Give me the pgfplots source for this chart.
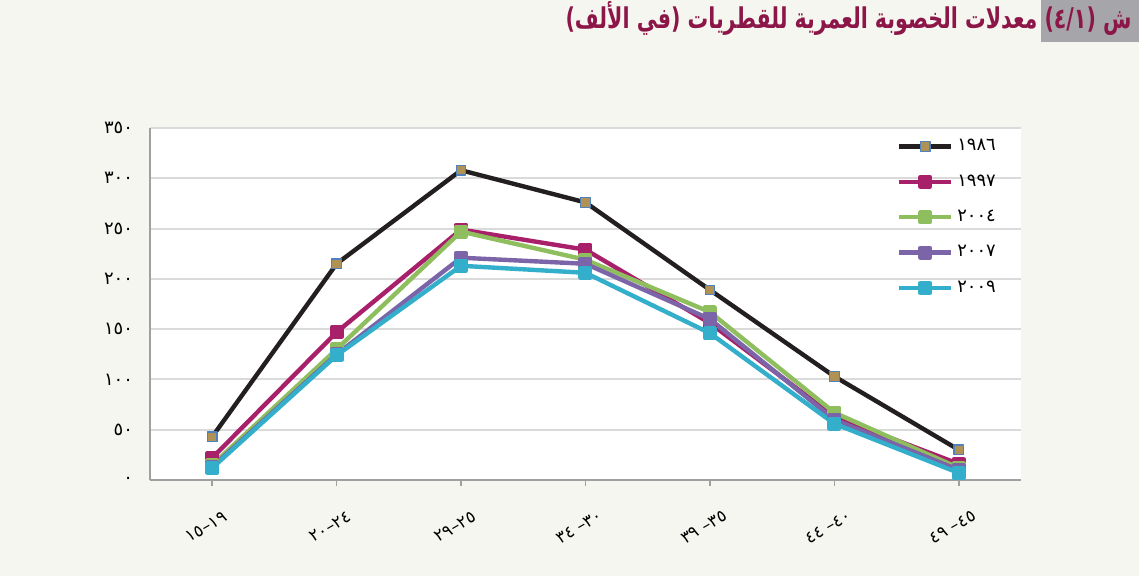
\documentclass[border=0pt]{standalone}
\usepackage{fontspec}
\setmainfont{DejaVu Sans}
\newfontfamily\arabicfont[Script=Arabic]{DejaVu Sans}
\TeXXeTstate=1
\usepackage{pgfplots}
\pgfplotsset{compat=1.18}
\definecolor{bg}{RGB}{246,246,241}
\definecolor{titlegray}{RGB}{166,166,170}
\definecolor{titlered}{RGB}{140,22,72}
\definecolor{gridgray}{RGB}{218,218,218}
\definecolor{axisgray}{RGB}{160,160,160}
\definecolor{cA}{RGB}{35,31,32}
\definecolor{cB}{RGB}{168,32,106}
\definecolor{cC}{RGB}{142,190,94}
\definecolor{cD}{RGB}{123,101,168}
\definecolor{cE}{RGB}{51,174,203}
\definecolor{mkfill}{RGB}{176,146,84}
\definecolor{mkdraw}{RGB}{79,129,189}
\begin{document}
\begin{tikzpicture}
\fill[bg] (0,0) rectangle (569.5bp,288bp);
\fill[titlegray] (520.5bp,267bp) rectangle (569.5bp,288bp);
\node[anchor=east, text=titlered, inner sep=0pt] at (566bp,278.8bp)
  {\resizebox{283bp}{13.5bp}{\arabicfont\bfseries
   \beginR ش \mbox{(}\mbox{٤/١}\mbox{)} معدلات الخصوبة العمرية للقطريات \mbox{(}في الألف\mbox{)}\endR}};
\begin{axis}[
  at={(75bp,48bp)}, anchor=south west,
  scale only axis, width=435.5bp, height=176bp,
  xmin=-0.5, xmax=6.5, ymin=0, ymax=350,
  axis background/.style={fill=white},
  axis x line*=bottom, axis y line*=left,
  x axis line style={draw=axisgray, line width=1bp},
  y axis line style={draw=axisgray, line width=0.6bp},
  ymajorgrids, grid style={draw=gridgray, line width=1bp},
  xtick={0,...,6},
  xticklabels={
    {\beginR\mbox{١٩}\mbox{–}\mbox{١٥}\endR},
    {\beginR\mbox{٢٤}\mbox{–}\mbox{٢٠}\endR},
    {\beginR\mbox{٢٥}\mbox{–}\mbox{٢٩}\endR},
    {\beginR\mbox{٣٠}\mbox{–}\hspace{2.5bp}\mbox{٣٤}\endR},
    {\beginR\mbox{٣٥}\mbox{–}\hspace{2.5bp}\mbox{٣٩}\endR},
    {\beginR\mbox{٤٠}\mbox{–}\hspace{2.5bp}\mbox{٤٤}\endR},
    {\beginR\mbox{٤٥}\mbox{–}\hspace{2.5bp}\mbox{٤٩}\endR}
  },
  ytick={0,50,...,350},
  yticklabels={
    {\beginR ٠\endR},
    {\beginR ٥٠\endR},
    {\beginR ١٠٠\endR},
    {\beginR ١٥٠\endR},
    {\beginR ٢٠٠\endR},
    {\beginR ٢٥٠\endR},
    {\beginR ٣٠٠\endR},
    {\beginR ٣٥٠\endR}
  },
  tick align=outside, major tick length=3bp,
  xtick style={draw=axisgray, line width=0.8bp},
  ytick style={draw=none},
  xticklabel style={font=\arabicfont\fontsize{8.5}{10}\selectfont, rotate=30, anchor=center, xshift=-12.85bp, yshift=-16.25bp},
  yticklabel style={font=\arabicfont\fontsize{9}{10}\selectfont, anchor=east, xshift=-2bp},
  legend style={at={(rel axis cs:0.983,0.992)}, anchor=north east, draw=none, fill=none,
    font=\arabicfont\fontsize{9}{10}\selectfont, row sep=6.5bp},
  legend image code/.code={\draw[mark repeat=2, mark phase=2, #1] plot coordinates {(0bp,0bp) (13bp,0bp) (26bp,0bp)};},
  legend cell align=left,
  every axis plot/.append style={line width=2.2bp, mark=square*, mark size=2.4bp, line join=round},
]
\addplot[cA, mark options={fill=mkfill, draw=mkdraw, line width=0.6bp}] coordinates {(0,43) (1,215) (2,308) (3,276) (4,189) (5,103) (6,30)};
\addlegendentry{١٩٨٦}
\addplot[cB] coordinates {(0,22) (1,147) (2,249) (3,229) (4,156) (5,63) (6,16)};
\addlegendentry{١٩٩٧}
\addplot[cC] coordinates {(0,15) (1,130) (2,247) (3,219) (4,167) (5,67) (6,12)};
\addlegendentry{٢٠٠٤}
\addplot[cD] coordinates {(0,13) (1,125) (2,221) (3,215) (4,160) (5,60) (6,10)};
\addlegendentry{٢٠٠٧}
\addplot[cE] coordinates {(0,12) (1,124) (2,213) (3,206) (4,146) (5,56) (6,7)};
\addlegendentry{٢٠٠٩}
\end{axis}
\end{tikzpicture}
\end{document}
